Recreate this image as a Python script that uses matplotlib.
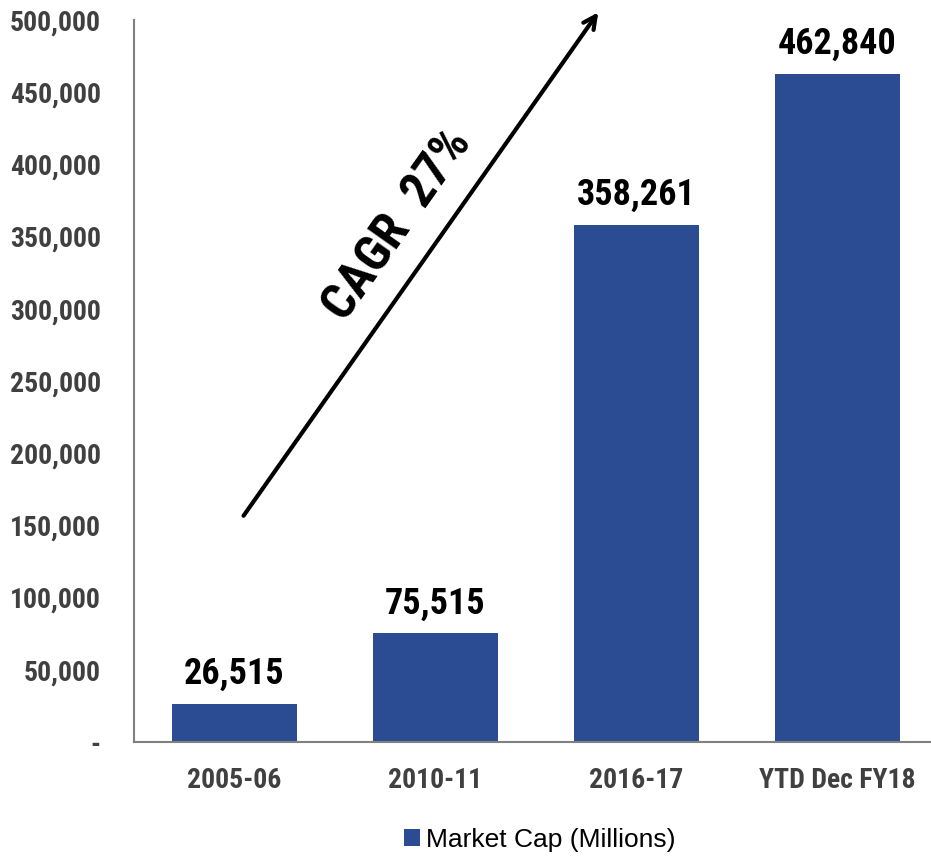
import matplotlib
matplotlib.use("Agg")
import matplotlib.pyplot as plt
from matplotlib.ticker import FuncFormatter

categories = ['2005-06', '2010-11', '2016-17', 'YTD Dec FY18']
market_cap = [26515, 75515, 358261, 462840]
legend_label = 'Market Cap (Millions)'
cagr_text = 'CAGR  27%'

bar_color = '#2B4C93'
tick_color = '#404040'
narrow = ['Roboto Condensed', 'Liberation Sans', 'DejaVu Sans']

fig = plt.figure(figsize=(9.31, 8.57), dpi=100)
ax = fig.add_axes([134 / 931, 115 / 857, 804 / 931, 722 / 857])

x = range(len(categories))
bars = ax.bar(x, market_cap, width=0.62, color=bar_color, label=legend_label)

ax.set_xlim(-0.5, 3.5)
ax.set_ylim(0, 500000)
ax.set_yticks(range(0, 500001, 50000))
ax.yaxis.set_major_formatter(FuncFormatter(lambda v, p: '-' if v == 0 else f'{int(v):,}'))
ax.set_xticks(list(x))
ax.set_xticklabels(categories)

for lab in ax.get_xticklabels() + ax.get_yticklabels():
    lab.set_fontfamily(narrow)
    lab.set_fontweight('bold')
    lab.set_fontsize(20)
    lab.set_color(tick_color)
ax.tick_params(axis='y', length=0, pad=24)
ax.tick_params(axis='x', length=0, pad=18)

for side in ['top', 'right']:
    ax.spines[side].set_visible(False)
for side in ['left', 'bottom']:
    ax.spines[side].set_color('#808080')
    ax.spines[side].set_linewidth(1.5)

# value labels above the bars
for rect, val in zip(bars, market_cap):
    ax.annotate(f'{val:,}', (rect.get_x() + rect.get_width() / 2, val),
                xytext=(0, 14), textcoords='offset points',
                ha='center', va='baseline', fontsize=26, fontweight='bold',
                family=narrow, color='black')

# CAGR arrow
ax.annotate('', xy=(1.818, 506900), xytext=(0.037, 155100),
            xycoords='data', annotation_clip=False,
            arrowprops=dict(arrowstyle='->,head_length=0.9,head_width=0.45',
                            lw=3, color='black'))
ax.text(0.81, 358000, cagr_text, rotation=54.8, rotation_mode='anchor',
        ha='center', va='center', fontsize=36, fontweight='bold',
        family=narrow, color='black')

fig.legend(loc='center', bbox_to_anchor=(0.58, 0.02), frameon=False,
           borderaxespad=0, borderpad=0,
           prop={'family': ['Liberation Sans', 'DejaVu Sans'], 'size': 19},
           handlelength=0.6, handleheight=0.6, handletextpad=0.25)

fig.savefig('out.png', dpi=100)
